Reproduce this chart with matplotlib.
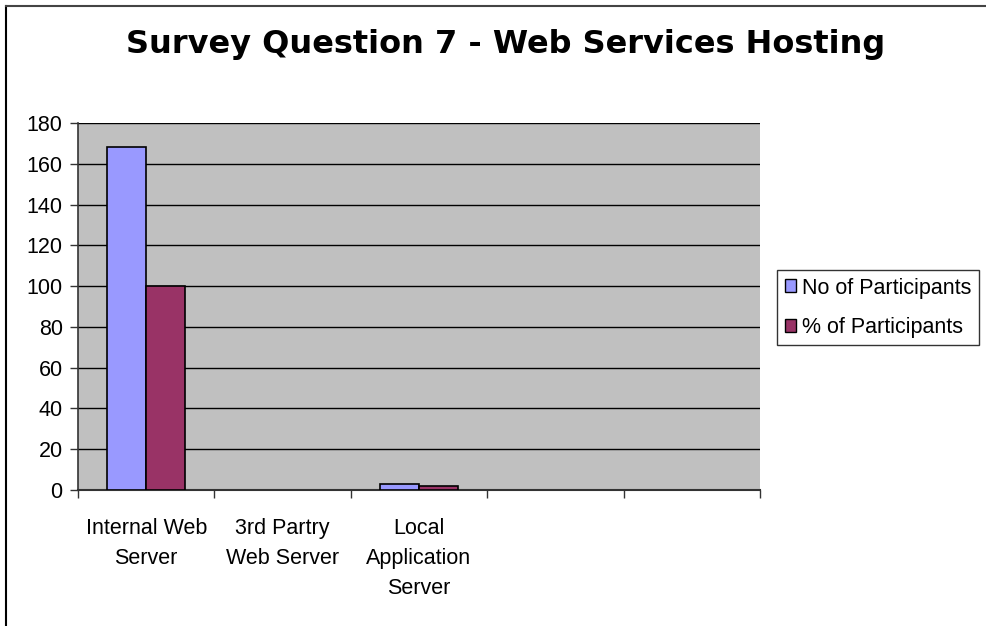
import matplotlib
matplotlib.use("Agg")
import matplotlib.pyplot as plt
import numpy as np
from matplotlib.lines import Line2D
from matplotlib.patches import Patch

categories = ["Internal Web\nServer", "3rd Partry\nWeb Server", "Local\nApplication\nServer", "", ""]
no_participants = [168, 0, 3, 0, 0]
pct_participants = [100, 0, 2, 0, 0]
series_names = ["No of Participants", "% of Participants"]
yticks = [0, 20, 40, 60, 80, 100, 120, 140, 160, 180]

FS = 15.5
fig = plt.figure(figsize=(9.87, 6.26), dpi=100)
ax = fig.add_axes([78/987, 1-490/626, (760-78)/987, (490-123)/626])
ax.set_facecolor("#C0C0C0")

x = np.arange(len(categories))
w = 0.285
lw1 = [1.2 if v > 0 else 0 for v in no_participants]
lw2 = [1.2 if v > 0 else 0 for v in pct_participants]
ax.bar(x - w/2, no_participants, w, color="#9999FF", edgecolor="black", linewidth=lw1, zorder=3)
ax.bar(x + w/2, pct_participants, w, color="#993366", edgecolor="black", linewidth=lw2, zorder=3)

ax.set_xlim(-0.5, len(categories) - 0.5)
ax.set_ylim(0, 180)
ax.set_yticks(yticks)
ax.set_yticklabels([str(v) for v in yticks], fontsize=FS, family="Liberation Sans")
ax.yaxis.grid(True, color="black", linewidth=1.0, zorder=1)
ax.set_axisbelow(True)

ax.set_xticks(np.arange(-0.5, len(categories), 1.0))
ax.set_xticklabels([])
ax.set_xticks(x, minor=True)
ax.set_xticklabels(categories, minor=True, fontsize=FS, family="Liberation Sans", linespacing=1.58)
ax.tick_params(axis="x", which="minor", length=0, pad=20)
ax.tick_params(axis="x", which="major", length=6, width=1, color="#333333")
ax.tick_params(axis="y", length=6, width=1, color="#333333", pad=5)

for s in ["top", "right"]:
    ax.spines[s].set_visible(False)
ax.spines["left"].set_color("#333333")
ax.spines["bottom"].set_color("#333333")
ax.spines["left"].set_linewidth(1.2)
ax.spines["bottom"].set_linewidth(1.5)

handles = [Patch(facecolor="#9999FF", edgecolor="black"), Patch(facecolor="#993366", edgecolor="black")]
leg = fig.legend(handles, series_names, loc="upper left", bbox_to_anchor=(777/987, 1-270/626),
                 prop={"family": "Liberation Sans", "size": FS}, frameon=True, fancybox=False,
                 handlelength=0.55, handleheight=0.55, handletextpad=0.25, borderpad=0.35,
                 labelspacing=0.85, borderaxespad=0)
leg.get_frame().set_edgecolor("black")
leg.get_frame().set_linewidth(1.0)

fig.text(506/987, 1-45/626, "Survey Question 7 - Web Services Hosting", ha="center", va="center",
         fontsize=23, fontweight="bold", family="DejaVu Sans")

fig.add_artist(Line2D([6/987, 6/987], [0, 1-6/626], color="black", linewidth=1.5, transform=fig.transFigure))
fig.add_artist(Line2D([6/987, 1], [1-6/626, 1-6/626], color="#444444", linewidth=1.5, transform=fig.transFigure))

fig.savefig("out.png", dpi=100)
